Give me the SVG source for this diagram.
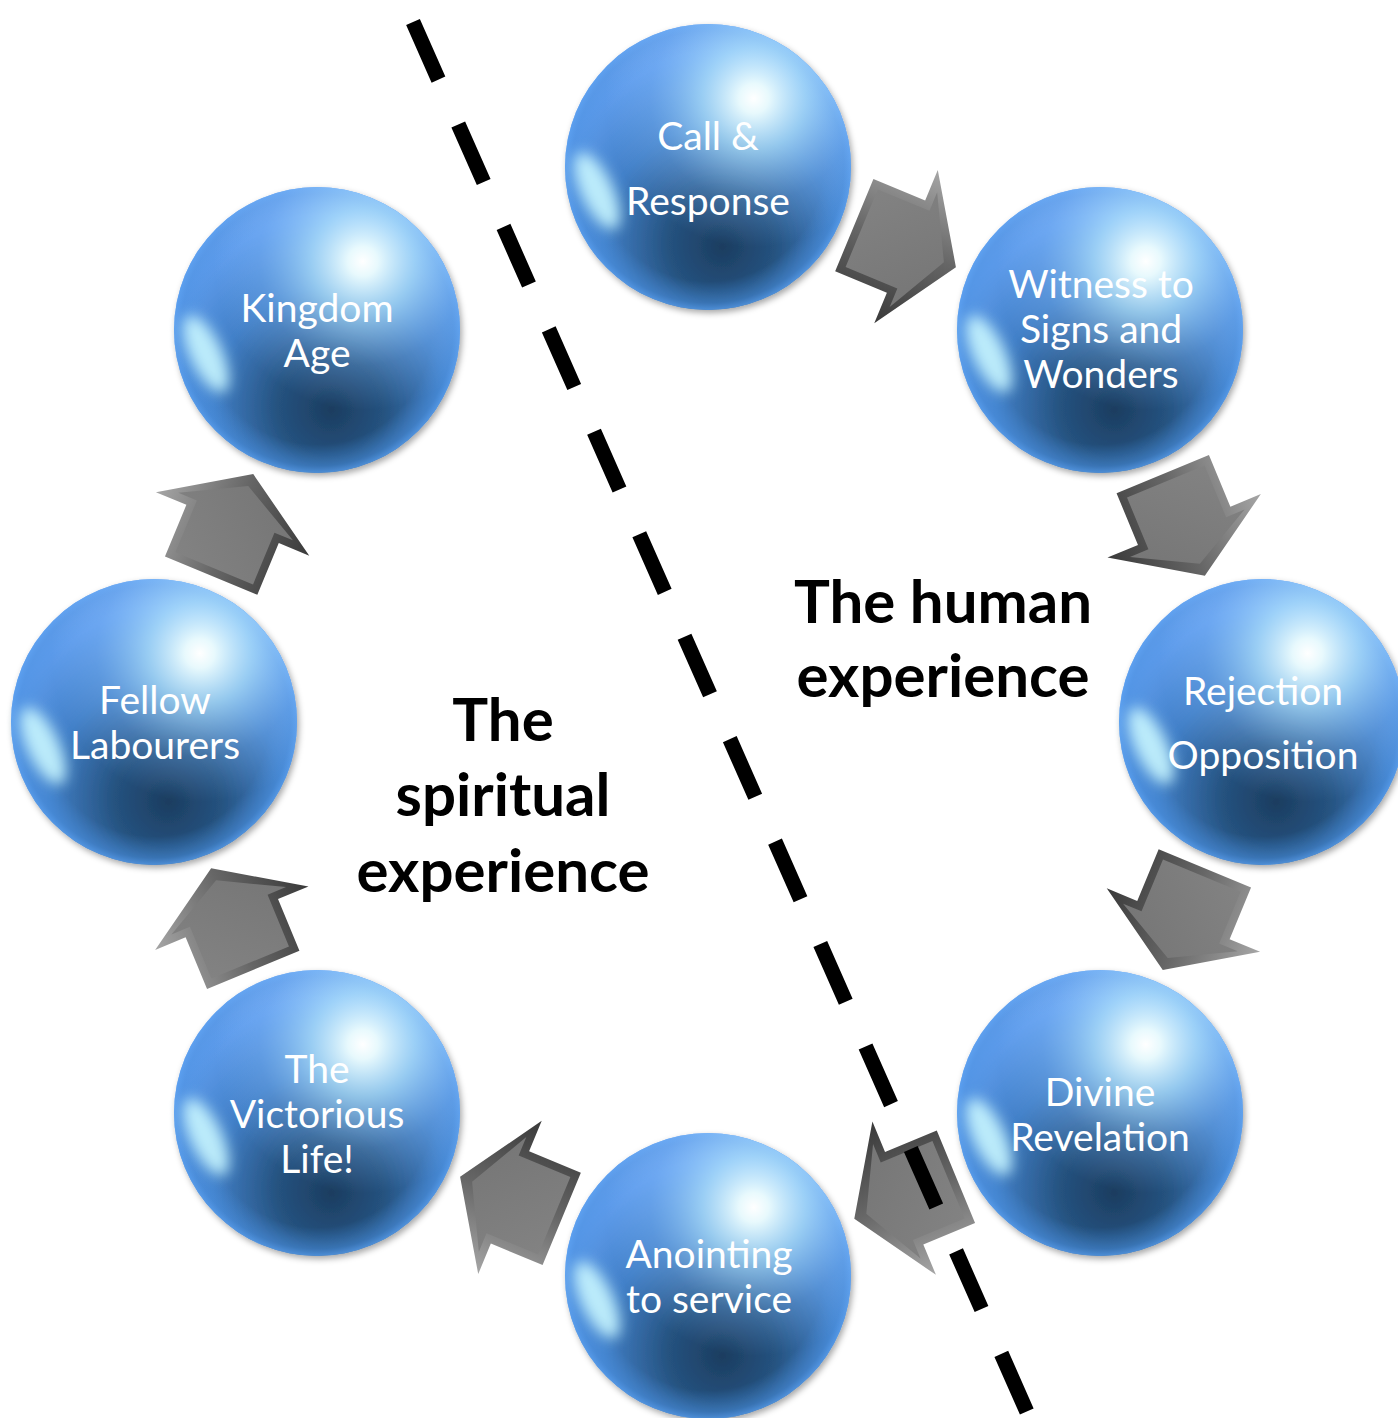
<svg xmlns="http://www.w3.org/2000/svg" width="1398" height="1418" viewBox="0 0 1398 1418">
<defs>
  <style>
    .lbl { font-family: Lato, "Liberation Sans", sans-serif; font-size: 39px; fill: #ffffff; text-anchor: middle; }
    .big { font-family: Lato, "Liberation Sans", sans-serif; font-weight: bold; font-size: 60px; fill: #000000; text-anchor: middle; }
    .dash { fill: none; stroke: #000000; stroke-width: 15; stroke-dasharray: 63 49; stroke-linecap: butt; }
  </style>
  <radialGradient id="sb" cx="0.54" cy="0.74" r="0.74" fx="0.55" fy="0.78">
    <stop offset="0" stop-color="#1c3d60"/>
    <stop offset="0.25" stop-color="#25527f"/>
    <stop offset="0.55" stop-color="#4280c8"/>
    <stop offset="0.85" stop-color="#5e9cec"/>
    <stop offset="1" stop-color="#74a8f2"/>
  </radialGradient>
  <radialGradient id="rim" cx="0.5" cy="0.5" r="0.5">
    <stop offset="0.8" stop-color="#4a90e0" stop-opacity="0"/>
    <stop offset="0.95" stop-color="#4a90e0" stop-opacity="0.5"/>
    <stop offset="1" stop-color="#5aa0f0" stop-opacity="0.75"/>
  </radialGradient>
  <radialGradient id="hl" cx="0.66" cy="0.26" r="0.52">
    <stop offset="0" stop-color="#ffffff" stop-opacity="1"/>
    <stop offset="0.1" stop-color="#f0ffff" stop-opacity="0.95"/>
    <stop offset="0.35" stop-color="#b8e8ff" stop-opacity="0.7"/>
    <stop offset="0.7" stop-color="#90c4ff" stop-opacity="0.25"/>
    <stop offset="1" stop-color="#8cc0ff" stop-opacity="0"/>
  </radialGradient>
  <filter id="shadow" x="-20%" y="-20%" width="140%" height="140%">
    <feDropShadow dx="2" dy="3" stdDeviation="3" flood-color="#000000" flood-opacity="0.35"/>
  </filter>
  <filter id="soft" x="-100%" y="-100%" width="300%" height="300%">
    <feGaussianBlur stdDeviation="7"/>
  </filter>
  <linearGradient id="bevel" gradientUnits="userSpaceOnUse" x1="0" y1="-83" x2="0" y2="83">
    <stop offset="0" stop-color="#a6a6a6"/>
    <stop offset="0.5" stop-color="#666666"/>
    <stop offset="1" stop-color="#3a3a3a"/>
  </linearGradient>
  <linearGradient id="face" gradientUnits="userSpaceOnUse" x1="-46" y1="-41" x2="40" y2="41">
    <stop offset="0" stop-color="#828282"/>
    <stop offset="1" stop-color="#767676"/>
  </linearGradient>
  <g id="arrow">
    <path d="M-55,-50 L1,-50 L1,-83 L55,0 L1,83 L1,50 L-55,50 Z" fill="url(#bevel)"/>
    <path d="M-47,-42 L9,-42 L9,-62 L42,0 L9,62 L9,42 L-47,42 Z" fill="url(#face)"/>
  </g>
  <g id="sphere">
    <circle r="143" fill="url(#sb)" filter="url(#shadow)"/>
    <circle r="143" fill="url(#rim)"/>
    <circle r="143" fill="url(#hl)"/>
    <ellipse cx="-111" cy="24" rx="16" ry="42" transform="rotate(-25 -111 24)" fill="#c8f6ff" opacity="0.9" filter="url(#soft)"/>
  </g>
</defs>
<rect width="1398" height="1418" fill="#ffffff"/>

<g id="connectors">
  <use href="#arrow" transform="translate(905.1,246.2) rotate(22.5)"/>
  <use href="#arrow" transform="translate(1183.8,524.9) rotate(67.5)"/>
  <use href="#arrow" transform="translate(1183.8,919.1) rotate(112.5)"/>
  <use href="#arrow" transform="translate(905.1,1197.8) rotate(157.5)"/>
  <use href="#arrow" transform="translate(510.9,1197.8) rotate(202.5)"/>
  <use href="#arrow" transform="translate(232.2,919.1) rotate(247.5)"/>
  <use href="#arrow" transform="translate(232.2,524.9) rotate(292.5)"/>
</g>

<g id="divider">
  <path class="dash" d="M413,22 L1027,1412"/>
</g>

<g id="node-call" transform="translate(708,167)">
  <use href="#sphere"/>
  <text class="lbl" x="0" y="-17">Call &amp;</text>
  <text class="lbl" x="0" y="48">Response</text>
</g>
<g id="node-witness" transform="translate(1100,330)">
  <use href="#sphere"/>
  <text class="lbl" x="1" y="-32">Witness to</text>
  <text class="lbl" x="1" y="13">Signs and</text>
  <text class="lbl" x="1" y="58">Wonders</text>
</g>
<g id="node-rejection" transform="translate(1262,722)">
  <use href="#sphere"/>
  <text class="lbl" x="1" y="-17">Rejection</text>
  <text class="lbl" x="1" y="47">Opposition</text>
</g>
<g id="node-divine" transform="translate(1100,1113)">
  <use href="#sphere"/>
  <text class="lbl" x="0" y="-7">Divine</text>
  <text class="lbl" x="0" y="38">Revelation</text>
</g>
<g id="node-anointing" transform="translate(708,1276)">
  <use href="#sphere"/>
  <text class="lbl" x="1" y="-8">Anointing</text>
  <text class="lbl" x="1" y="37">to service</text>
</g>
<g id="node-victorious" transform="translate(317,1113)">
  <use href="#sphere"/>
  <text class="lbl" x="0" y="-30">The</text>
  <text class="lbl" x="0" y="15">Victorious</text>
  <text class="lbl" x="0" y="60">Life!</text>
</g>
<g id="node-fellow" transform="translate(154,722)">
  <use href="#sphere"/>
  <text class="lbl" x="1" y="-8">Fellow</text>
  <text class="lbl" x="1" y="37">Labourers</text>
</g>
<g id="node-kingdom" transform="translate(317,330)">
  <use href="#sphere"/>
  <text class="lbl" x="0" y="-8">Kingdom</text>
  <text class="lbl" x="0" y="37">Age</text>
</g>

<g id="label-human">
  <text class="big" x="943" y="623">The human</text>
  <text class="big" x="943" y="697">experience</text>
</g>
<g id="label-spiritual">
  <text class="big" x="503" y="741">The</text>
  <text class="big" x="503" y="816">spiritual</text>
  <text class="big" x="503" y="892">experience</text>
</g>
</svg>
